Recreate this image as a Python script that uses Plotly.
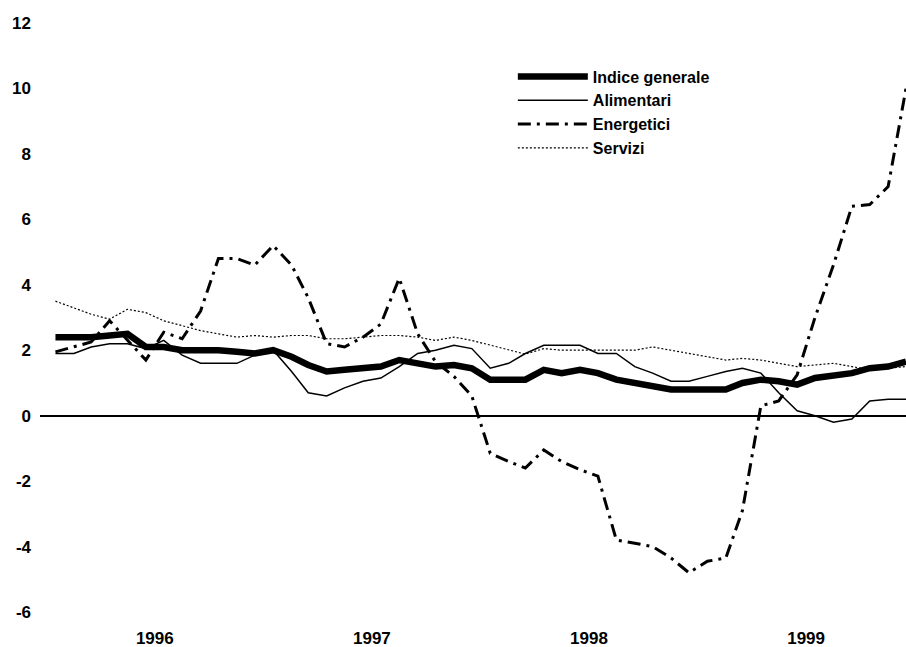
import pandas as pd
import plotly.graph_objects as go

months = pd.date_range("1996-01-01", periods=48, freq="MS")

indice_generale = [2.4, 2.4, 2.4, 2.45, 2.5, 2.1, 2.1, 2.0, 2.0, 2.0, 1.95, 1.9,
                   2.0, 1.8, 1.55, 1.35, 1.4, 1.45, 1.5, 1.7, 1.6, 1.5, 1.55, 1.45,
                   1.1, 1.1, 1.1, 1.4, 1.3, 1.4, 1.3, 1.1, 1.0, 0.9, 0.8, 0.8,
                   0.8, 0.8, 1.0, 1.1, 1.05, 0.95, 1.15, 1.25, 1.3, 1.45, 1.5, 1.65]

alimentari = [1.9, 1.9, 2.1, 2.2, 2.2, 2.05, 2.3, 1.85, 1.6, 1.6, 1.6, 1.85,
              2.0, 1.35, 0.7, 0.6, 0.85, 1.05, 1.15, 1.5, 1.9, 2.0, 2.15, 2.05,
              1.45, 1.6, 1.9, 2.15, 2.15, 2.15, 1.9, 1.9, 1.5, 1.3, 1.05, 1.05,
              1.2, 1.35, 1.45, 1.3, 0.7, 0.15, 0.0, -0.2, -0.1, 0.45, 0.5, 0.5]

energetici = [1.95, 2.1, 2.25, 2.9, 2.3, 1.7, 2.55, 2.35, 3.2, 4.8, 4.8, 4.6,
              5.2, 4.6, 3.6, 2.2, 2.1, 2.4, 2.8, 4.2, 2.5, 1.65, 1.2, 0.6,
              -1.15, -1.4, -1.6, -1.05, -1.4, -1.65, -1.85, -3.8, -3.9, -4.0, -4.35, -4.8,
              -4.45, -4.35, -2.9, 0.3, 0.45, 1.25, 3.0, 4.6, 6.4, 6.45, 7.0, 10.0]

servizi = [3.5, 3.3, 3.1, 2.95, 3.25, 3.15, 2.9, 2.75, 2.6, 2.5, 2.4, 2.45,
           2.4, 2.45, 2.45, 2.35, 2.35, 2.4, 2.45, 2.45, 2.4, 2.3, 2.4, 2.3,
           2.15, 2.0, 1.88, 2.05, 2.0, 2.0, 2.0, 2.0, 2.0, 2.1, 2.0, 1.9,
           1.8, 1.7, 1.75, 1.7, 1.6, 1.5, 1.55, 1.6, 1.5, 1.4, 1.45, 1.5]

year_ticks = ["1996-06-16", "1997-06-16", "1998-06-16", "1999-06-16"]
year_labels = ["1996", "1997", "1998", "1999"]
y_ticks = [-6, -4, -2, 0, 2, 4, 6, 8, 10, 12]
y_labels = ["-6", "-4", "-2", "0", "2", "4", "6", "8", "10", "12"]

fig = go.Figure()
fig.add_trace(go.Scatter(x=months, y=indice_generale, name="Indice generale",
                         mode="lines", line=dict(color="black", width=6.5)))
fig.add_trace(go.Scatter(x=months, y=alimentari, name="Alimentari",
                         mode="lines", line=dict(color="black", width=1.5)))
fig.add_trace(go.Scatter(x=months, y=energetici, name="Energetici",
                         mode="lines", line=dict(color="black", width=3,
                                                 dash="13px,6px,3px,6px")))
fig.add_trace(go.Scatter(x=months, y=servizi, name="Servizi",
                         mode="lines", line=dict(color="black", width=1.2,
                                                 dash="2px,2px")))

fig.update_layout(
    width=906, height=647,
    margin=dict(l=40, r=0, t=23, b=35),
    paper_bgcolor="white", plot_bgcolor="white",
    font=dict(family="Liberation Sans, Arial, sans-serif", color="black"),
    showlegend=True,
    legend=dict(x=0.546, y=0.938, xanchor="left", yanchor="top",
                bgcolor="rgba(0,0,0,0)", tracegroupgap=0, itemwidth=70,
                font=dict(size=16, family="Liberation Sans, Arial, sans-serif", weight="bold")),
)
fig.update_xaxes(range=["1995-12-06", "1999-12-01"], showgrid=False, zeroline=False,
                 showline=False, ticks="", tickmode="array", tickvals=year_ticks,
                 ticktext=year_labels, ticklabelstandoff=14,
                 tickfont=dict(size=17, weight="bold"))
fig.update_yaxes(range=[-6, 12], showgrid=False, zeroline=True, zerolinecolor="black",
                 zerolinewidth=2, showline=False, ticks="", tickmode="array",
                 tickvals=y_ticks, ticktext=y_labels, ticklabelstandoff=8,
                 tickfont=dict(size=17, weight="bold"))

fig.write_html("out.html", config={"displayModeBar": False},
               post_script="document.body.style.margin='0';document.body.style.overflow='hidden';")
